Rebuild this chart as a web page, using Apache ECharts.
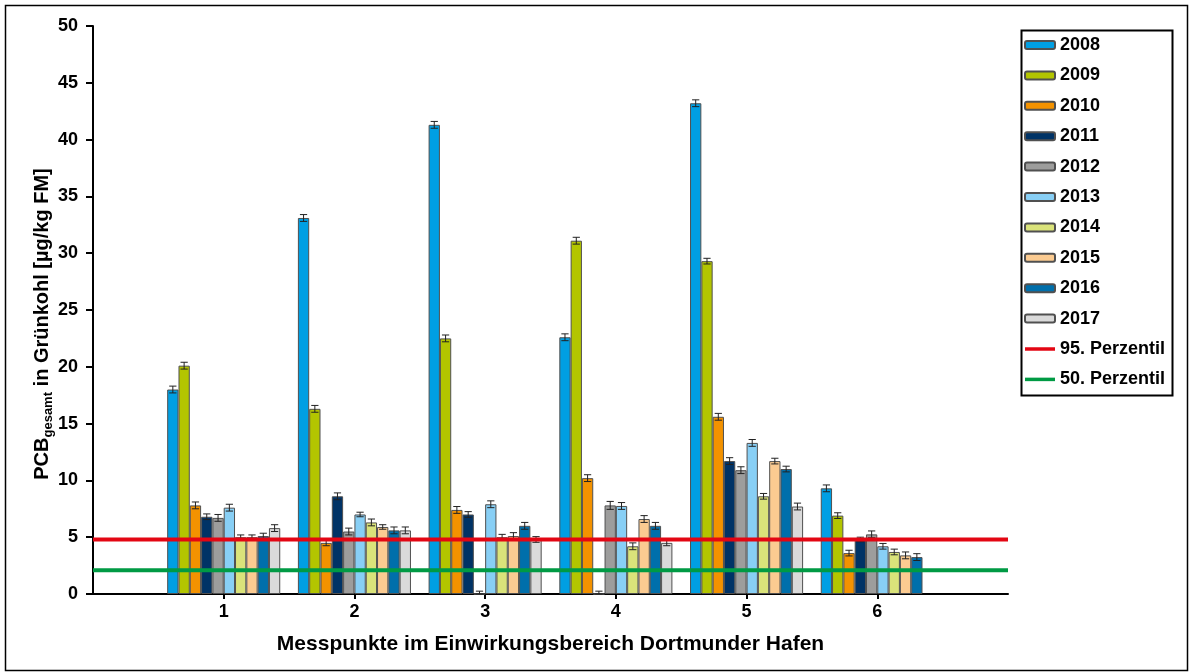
<!DOCTYPE html>
<html>
<head>
<meta charset="utf-8">
<script src="https://cdn.jsdelivr.net/npm/echarts@6/dist/echarts.min.js"></script>
<style>html,body{margin:0;padding:0;background:#fff;}#c{width:1189px;height:672px;}</style>
</head>
<body>
<div id="c"></div>
<script>
// ---- data ----
const categories = ['1', '2', '3', '4', '5', '6'];
const years = ['2008', '2009', '2010', '2011', '2012', '2013', '2014', '2015', '2016', '2017'];
const v2008 = [18.0, 33.1, 41.3, 22.6, 43.2, 9.3];
const v2009 = [20.1, 16.3, 22.5, 31.1, 29.3, 6.9];
const v2010 = [7.8, 4.5, 7.4, 10.2, 15.6, 3.6];
const v2011 = [6.8, 8.6, 7.0, 0, 11.7, 4.8];
const v2012 = [6.7, 5.5, 0, 7.8, 10.9, 5.25];
const v2013 = [7.6, 7.0, 7.9, 7.75, 13.3, 4.2];
const v2014 = [5.0, 6.3, 5.0, 4.2, 8.6, 3.7];
const v2015 = [5.0, 5.9, 5.1, 6.6, 11.7, 3.4];
const v2016 = [5.1, 5.6, 6.0, 6.0, 11.0, 3.25];
const v2017 = [5.8, 5.6, 4.8, 4.5, 7.7, null];
const e2008 = [0.3, 0.3, 0.3, 0.3, 0.3, 0.3];
const e2009 = [0.3, 0.3, 0.3, 0.3, 0.25, 0.25];
const e2010 = [0.3, 0.25, 0.3, 0.3, 0.3, 0.25];
const e2011 = [0.25, 0.3, 0.25, 0.25, 0.3, 0.2];
const e2012 = [0.3, 0.3, 0.25, 0.35, 0.3, 0.3];
const e2013 = [0.3, 0.2, 0.3, 0.3, 0.3, 0.25];
const e2014 = [0.2, 0.3, 0.25, 0.3, 0.25, 0.25];
const e2015 = [0.2, 0.2, 0.3, 0.3, 0.25, 0.3];
const e2016 = [0.25, 0.3, 0.3, 0.3, 0.25, 0.3];
const e2017 = [0.3, 0.3, 0.25, 0.25, 0.3, null];
const p95 = 4.8;
const p50 = 2.1;
const yTicks = { min: 0, max: 50, interval: 5 };

const values = [v2008, v2009, v2010, v2011, v2012, v2013, v2014, v2015, v2016, v2017];
const errors = [e2008, e2009, e2010, e2011, e2012, e2013, e2014, e2015, e2016, e2017];
const colors = ['#009FE3', '#B3C500', '#F39200', '#003366', '#9D9D9C', '#88CFF5', '#DAE37A', '#FBCB91', '#006FAB', '#DADADA'];
const RED = '#E30613', GREEN = '#009A44';

// padded category axis so groups sit on ticks
const axisCats = [''].concat(categories, ['']);
const pad = arr => [null].concat(arr, [null]);
const GAP = 0.135;

const series = years.map((y, k) => ({
  name: y,
  type: 'bar',
  data: pad(values[k]),
  barGap: '0%',
  barCategoryGap: (GAP * 100) + '%',
  itemStyle: { color: colors[k], borderColor: '#505050', borderWidth: 1 },
  z: 2
}));

const errData = [];
values.forEach((arr, k) => {
  arr.forEach((v, i) => {
    if (v !== null && errors[k][i] !== null) errData.push([i + 1, k, v, errors[k][i]]);
  });
});

series.push({
  name: 'err',
  type: 'custom',
  data: errData,
  encode: { x: 0, y: 2 },
  z: 5,
  silent: true,
  renderItem: function (params, api) {
    const cat = api.value(0), k = api.value(1), val = api.value(2), err = api.value(3);
    const band = api.size([1, 0])[0];
    const groupW = band * (1 - GAP);
    const w = groupW / years.length;
    const c = api.coord([cat, val]);
    const x = c[0] - groupW / 2 + w * (k + 0.5);
    const top = api.coord([cat, val + err])[1];
    const bot = api.coord([cat, Math.max(0, val - err)])[1];
    const h = w * 0.32;
    const st = { stroke: '#222', lineWidth: 1 };
    return {
      type: 'group',
      children: [
        { type: 'line', shape: { x1: x, y1: top, x2: x, y2: bot }, style: st },
        { type: 'line', shape: { x1: x - h, y1: top, x2: x + h, y2: top }, style: st },
        { type: 'line', shape: { x1: x - h, y1: bot, x2: x + h, y2: bot }, style: st }
      ]
    };
  }
});

series.push({
  name: '95. Perzentil', type: 'line', data: axisCats.map(() => p95),
  symbol: 'none', lineStyle: { color: RED, width: 4 }, itemStyle: { color: RED }, z: 6
});
series.push({
  name: '50. Perzentil', type: 'line', data: axisCats.map(() => p50),
  symbol: 'none', lineStyle: { color: GREEN, width: 4 }, itemStyle: { color: GREEN }, z: 6
});

const LINE_ICON = 'path://M0,0L30,0L30,3.5L0,3.5Z';
const FONT = '"Liberation Sans", Arial, sans-serif';
const chart = echarts.init(document.getElementById('c'), null, { renderer: 'canvas' });
chart.setOption({
  animation: false,
  backgroundColor: '#fff',
  textStyle: { fontFamily: FONT },
  grid: { left: 93, right: 181, top: 26, bottom: 78, containLabel: false },
  legend: {
    orient: 'vertical', left: 1019, top: 31, padding: 5,
    data: years.map(y => ({ name: y })).concat([
      { name: '95. Perzentil', icon: LINE_ICON, itemStyle: { color: RED, borderWidth: 0 } },
      { name: '50. Perzentil', icon: LINE_ICON, itemStyle: { color: GREEN, borderWidth: 0 } }
    ]),
    itemWidth: 30, itemHeight: 8, itemGap: 12.4, symbolKeepAspect: true,
    textStyle: { fontFamily: FONT, fontWeight: 'bold', fontSize: 18, color: '#000' },
    selectedMode: false
  },
  xAxis: {
    type: 'category', data: axisCats, boundaryGap: false,
    name: 'Messpunkte im Einwirkungsbereich Dortmunder Hafen',
    nameLocation: 'middle', nameGap: 40,
    nameTextStyle: { fontFamily: FONT, fontWeight: 'bold', fontSize: 21, color: '#000' },
    axisLine: { lineStyle: { color: '#000', width: 2 } },
    axisTick: { show: true, length: 5, lineStyle: { color: '#000', width: 2 }, interval: (i, v) => v !== '' },
    axisLabel: { fontFamily: FONT, fontWeight: 'bold', fontSize: 18, color: '#000', margin: 9, interval: 0 },
    splitLine: { show: false }
  },
  yAxis: {
    type: 'value', min: yTicks.min, max: yTicks.max, interval: yTicks.interval,
    name: '{a|PCB}{s|gesamt}{a| in Grünkohl [µg/kg FM]}',
    nameLocation: 'middle', nameGap: 38, nameRotate: 90, nameMoveOverlap: false,
    nameTextStyle: {
      fontFamily: FONT, color: '#000', padding: [0, 28, 0, 0],
      rich: {
        a: { fontFamily: FONT, fontWeight: 'bold', fontSize: 20, color: '#000', lineHeight: 26, verticalAlign: 'middle' },
        s: { fontFamily: FONT, fontWeight: 'bold', fontSize: 13, color: '#000', lineHeight: 26, verticalAlign: 'bottom' }
      }
    },
    axisLine: { show: true, lineStyle: { color: '#000', width: 2 } },
    axisTick: { show: true, length: 7, lineStyle: { color: '#000', width: 2 } },
    axisLabel: { fontFamily: FONT, fontWeight: 'bold', fontSize: 18, color: '#000', margin: 15 },
    splitLine: { show: false }
  },
  graphic: [
    { type: 'rect', left: 3, top: 3, shape: { x: 0, y: 0, width: 1182, height: 665 },
      style: { fill: 'none', stroke: '#000', lineWidth: 1.5 }, silent: true, z: -1 },
    { type: 'rect', left: 1019, top: 28, shape: { x: 0, y: 0, width: 151, height: 365 },
      style: { fill: 'none', stroke: '#000', lineWidth: 2 }, silent: true }
  ],
  series: series
});
</script>
</body>
</html>
